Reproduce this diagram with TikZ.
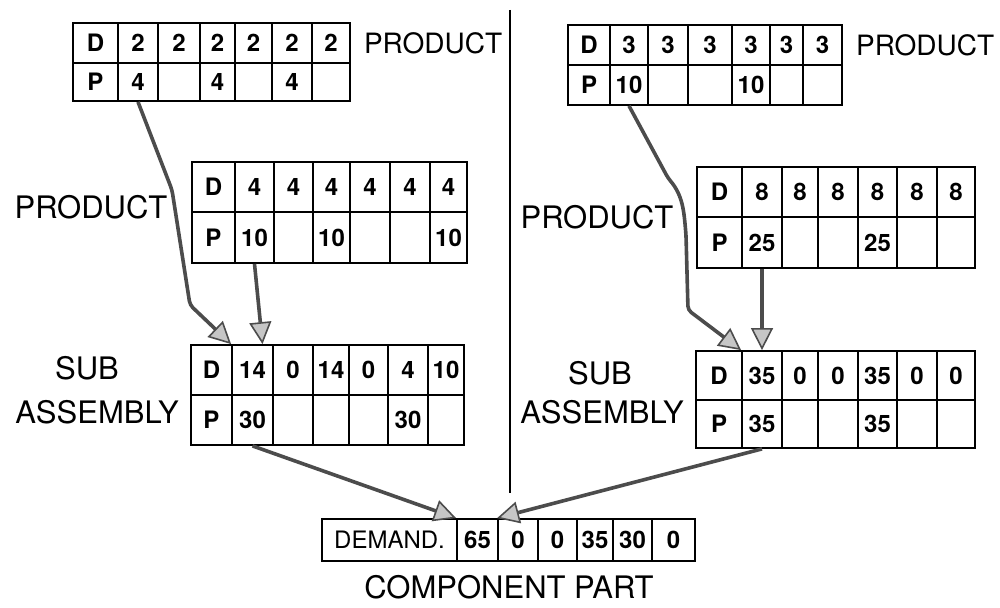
\documentclass[tikz,border=0pt]{standalone}
\usepackage{fontspec}
\setmainfont{TeX Gyre Heros}
\usetikzlibrary{arrows.meta}
\tikzset{
  cell/.style={draw,line width=0.9pt,inner sep=0pt,font=\bfseries\fontsize{12}{14}\selectfont},
  lbl/.style={font=\fontsize{15.5}{18}\selectfont},
  flow/.style={draw=black!70,line width=1.8pt,rounded corners=2pt,
    -{Triangle[length=11pt,width=11pt,fill=gray!45,line width=0.8pt]}}
}

\begin{document}
\begin{tikzpicture}[x=0.5pt,y=-0.5pt]
\useasboundingbox (0,0) rectangle (1000,608);
\draw[line width=0.9pt](510,10)--(510,493);

% product, top left
\foreach \n/\xa/\xb/\val in {0/73/118/D,1/118/158/2,2/158/200/2,3/200/235/2,4/235/272/2,5/272/312/2,6/312/350/2}
  \node[cell,minimum width={(\xb-\xa)*0.5pt},minimum height=20pt] (aD\n) at ({(\xa+\xb)/2},43) {\val};
\foreach \n/\xa/\xb/\val in {0/73/118/P,1/118/158/4,2/158/200/{},3/200/235/4,4/235/272/{},5/272/312/4,6/312/350/{}}
  \node[cell,minimum width={(\xb-\xa)*0.5pt},minimum height=19pt] (aP\n) at ({(\xa+\xb)/2},82) {\val};
\node[lbl,font=\fontsize{14}{16}\selectfont,anchor=west] (la) at (357,43) {PRODUCT};

% product, middle left
\foreach \n/\xa/\xb/\val in {0/192/235/D,1/235/274/4,2/274/313/4,3/313/350/4,4/350/390/4,5/390/430/4,6/430/467/4}
  \node[cell,minimum width={(\xb-\xa)*0.5pt},minimum height=25pt] (bD\n) at ({(\xa+\xb)/2},187) {\val};
\foreach \n/\xa/\xb/\val in {0/192/235/P,1/235/274/10,2/274/313/{},3/313/350/10,4/350/390/{},5/390/430/{},6/430/467/10}
  \node[cell,minimum width={(\xb-\xa)*0.5pt},minimum height=25.5pt] (bP\n) at ({(\xa+\xb)/2},237.5) {\val};
\node[lbl] (lb) at (91,207) {PRODUCT};

% sub assembly, left
\foreach \n/\xa/\xb/\val in {0/191/232/D,1/232/273/14,2/273/313/0,3/313/349/14,4/349/388/0,5/388/428/4,6/428/464/10}
  \node[cell,minimum width={(\xb-\xa)*0.5pt},minimum height=25pt] (cD\n) at ({(\xa+\xb)/2},370) {\val};
\foreach \n/\xa/\xb/\val in {0/191/232/P,1/232/273/30,2/273/313/{},3/313/349/{},4/349/388/{},5/388/428/30,6/428/464/{}}
  \node[cell,minimum width={(\xb-\xa)*0.5pt},minimum height=25pt] (cP\n) at ({(\xa+\xb)/2},420) {\val};
\node[lbl] (lc1) at (87,368) {SUB};
\node[lbl] (lc2) at (97,412) {ASSEMBLY};

% product, top right
\foreach \n/\xa/\xb/\val in {0/568/610/D,1/610/648/3,2/648/688/3,3/688/732/3,4/732/770/3,5/770/803/3,6/803/842/3}
  \node[cell,minimum width={(\xb-\xa)*0.5pt},minimum height=20pt] (dD\n) at ({(\xa+\xb)/2},45) {\val};
\foreach \n/\xa/\xb/\val in {0/568/610/P,1/610/648/10,2/648/688/{},3/688/732/{},4/732/770/10,5/770/803/{},6/803/842/{}}
  \node[cell,minimum width={(\xb-\xa)*0.5pt},minimum height=20pt] (dP\n) at ({(\xa+\xb)/2},85) {\val};
\node[lbl,font=\fontsize{14}{16}\selectfont,anchor=west] (ld) at (849,45) {PRODUCT};

% product, middle right
\foreach \n/\xa/\xb/\val in {0/697/742/D,1/742/782/8,2/782/818/8,3/818/858/8,4/858/897/8,5/897/937/8,6/937/975/8}
  \node[cell,minimum width={(\xb-\xa)*0.5pt},minimum height=25pt] (eD\n) at ({(\xa+\xb)/2},192) {\val};
\foreach \n/\xa/\xb/\val in {0/697/742/P,1/742/782/25,2/782/818/{},3/818/858/{},4/858/897/25,5/897/937/{},6/937/975/{}}
  \node[cell,minimum width={(\xb-\xa)*0.5pt},minimum height=25.5pt] (eP\n) at ({(\xa+\xb)/2},242.5) {\val};
\node[lbl] (le) at (597,217) {PRODUCT};

% sub assembly, right
\foreach \n/\xa/\xb/\val in {0/696/742/D,1/742/782/35,2/782/818/0,3/818/858/0,4/858/897/35,5/897/937/0,6/937/975/0}
  \node[cell,minimum width={(\xb-\xa)*0.5pt},minimum height=24.5pt] (fD\n) at ({(\xa+\xb)/2},375.5) {\val};
\foreach \n/\xa/\xb/\val in {0/696/742/P,1/742/782/35,2/782/818/{},3/818/858/{},4/858/897/35,5/897/937/{},6/937/975/{}}
  \node[cell,minimum width={(\xb-\xa)*0.5pt},minimum height=24pt] (fP\n) at ({(\xa+\xb)/2},424) {\val};
\node[lbl] (lf1) at (600,373) {SUB};
\node[lbl] (lf2) at (602,412) {ASSEMBLY};

% component part
\node[cell,font=\fontsize{12}{14}\selectfont,minimum width=67.5pt,minimum height=21pt] (g0) at (389.5,540) {DEMAND.};
\foreach \n/\xa/\xb/\val in {1/457/498/65,2/498/538/0,3/538/577/0,4/577/613/35,5/613/652/30,6/652/695/0}
  \node[cell,font=\bfseries\fontsize{12}{14}\selectfont,minimum width={(\xb-\xa)*0.5pt},minimum height=21pt] (g\n) at ({(\xa+\xb)/2},540) {\val};
\node[lbl] (lg) at (509,587) {COMPONENT PART};

% arrows
\draw[flow](aP1.south) -- (172,190) -- (190,305) -- (cD1.north west);
\draw[flow](bP1.south) -- ([xshift=5pt]cD1.north);
\draw[flow](dP1.south) -- (668,178) to[out=-50,in=95] (686,235) -- (688,310) -- (fD1.north west);
\draw[flow](eP1.south) -- (fD1.north);
\draw[flow](cP1.south) -- (g1.north west);
\draw[flow](fP1.south) -- (g2.north west);
\end{tikzpicture}
\end{document}
